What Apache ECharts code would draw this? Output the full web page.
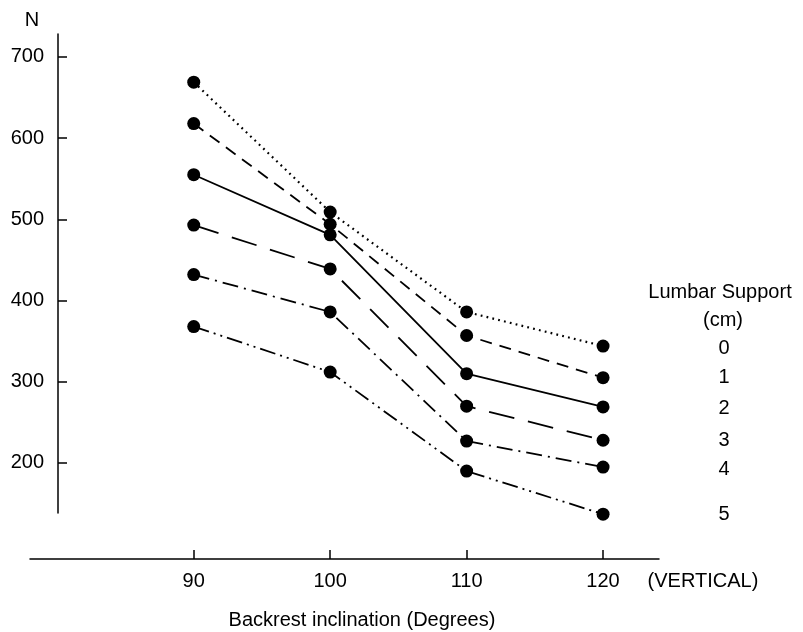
<!DOCTYPE html>
<html>
<head>
<meta charset="utf-8">
<script src="https://cdn.jsdelivr.net/npm/echarts@6/dist/echarts.min.js"></script>
<style>
html,body{margin:0;padding:0;background:#fff;}
#chart{width:803px;height:632px;}
</style>
</head>
<body>
<div id="chart"></div>
<script>
// Backrest inclination (degrees)
const inclinations = [90, 100, 110, 120];
const xTickLabels = ['90', '100', '110', '120'];
const yTickValues = [200, 300, 400, 500, 600, 700];
// Lumbar support levels (cm)
const lumbarLevels = ['0', '1', '2', '3', '4', '5'];
// Disc force (N) for each lumbar support level
const force0 = [669, 509, 386, 344];
const force1 = [618, 494, 357, 305];
const force2 = [555, 481, 310, 269];
const force3 = [493, 439, 270, 228];
const force4 = [432, 386, 227, 195];
const force5 = [368, 312, 190, 137];

const FONT = 'Liberation Sans, Arial, Helvetica, sans-serif';
const INK = '#000';

const seriesValues = [force0, force1, force2, force3, force4, force5];
const dashStyles = [
  [1.8, 4.2],
  [12, 8],
  'solid',
  [26, 14],
  [16, 6, 2, 6],
  [16, 5, 2, 5, 2, 5]
];

const chart = echarts.init(document.getElementById('chart'), null, {renderer: 'canvas'});

const series = seriesValues.map((vals, i) => ({
  name: lumbarLevels[i],
  type: 'line',
  data: vals.map((v, j) => [inclinations[j], v]),
  symbol: 'circle',
  symbolSize: 13,
  clip: false,
  itemStyle: {color: INK},
  lineStyle: {color: INK, width: i === 0 ? 2.2 : 1.8, type: dashStyles[i], cap: 'butt'},
  emphasis: {disabled: true},
  z: 3
}));

const legendY = [348, 377, 408, 440, 469, 514];

const graphic = [
  {type: 'text', style: {x: 32, y: 20, text: 'N', fill: INK, font: '20px ' + FONT, textAlign: 'center', textVerticalAlign: 'middle'}},
  {type: 'text', style: {x: 703, y: 581, text: '(VERTICAL)', fill: INK, font: '20px ' + FONT, textAlign: 'center', textVerticalAlign: 'middle'}},
  {type: 'text', style: {x: 362, y: 620, text: 'Backrest inclination (Degrees)', fill: INK, font: '20px ' + FONT, textAlign: 'center', textVerticalAlign: 'middle'}},
  {type: 'text', style: {x: 720, y: 292, text: 'Lumbar Support', fill: INK, font: '20px ' + FONT, textAlign: 'center', textVerticalAlign: 'middle'}},
  {type: 'text', style: {x: 723, y: 320, text: '(cm)', fill: INK, font: '20px ' + FONT, textAlign: 'center', textVerticalAlign: 'middle'}}
].concat(lumbarLevels.map((lbl, i) => ({
  type: 'text',
  style: {x: 724, y: legendY[i], text: lbl, fill: INK, font: '20px ' + FONT, textAlign: 'center', textVerticalAlign: 'middle'}
})));

chart.setOption({
  animation: false,
  backgroundColor: '#fff',
  grid: {left: 30, right: 144, top: 34, bottom: 119, containLabel: false},
  xAxis: {
    type: 'value',
    min: 78,
    max: 124.1,
    offset: 46,
    axisLine: {show: true, lineStyle: {color: INK, width: 1.5}},
    axisTick: {show: true, inside: true, length: 9, lineStyle: {color: INK, width: 1.5}, customValues: inclinations},
    axisLabel: {show: true, customValues: inclinations, formatter: v => xTickLabels[inclinations.indexOf(v)] || '', color: INK, fontSize: 20, fontFamily: FONT, margin: 12},
    splitLine: {show: false}
  },
  yAxis: {
    type: 'value',
    min: 138.4,
    max: 728.3,
    offset: -28,
    axisLine: {show: true, lineStyle: {color: INK, width: 1.5}},
    axisTick: {show: true, inside: true, length: 9, lineStyle: {color: INK, width: 1.5}, customValues: yTickValues},
    axisLabel: {show: true, customValues: yTickValues, color: INK, fontSize: 20, fontFamily: FONT, margin: 14},
    splitLine: {show: false}
  },
  graphic: graphic,
  series: series
});
</script>
</body>
</html>
